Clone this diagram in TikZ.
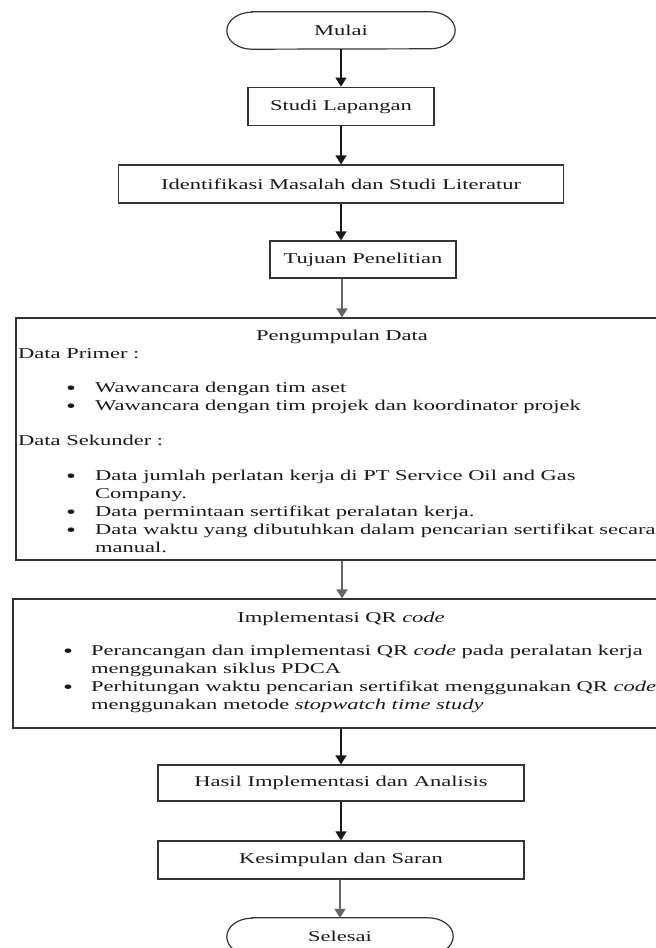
\documentclass[tikz,border=0pt]{standalone}
\usepackage{fontspec}
\setmainfont[FakeStretch=1.5]{Liberation Serif}
\usetikzlibrary{arrows.meta,calc}
\begin{document}
\begin{tikzpicture}[x=1pt,y=1pt,
  boxnode/.style={draw=black!80,line width=1.2pt,inner sep=0pt,font=\fontsize{15}{18}\selectfont,text=black!90},
  termnode/.style={inner sep=0pt,font=\fontsize{15}{18}\selectfont,text=black!90},
  termline/.style={draw=black!80,line width=1.2pt},
  plainbox/.style={draw=black!80,line width=1.2pt,inner sep=0pt},
  txt/.style={anchor=base west,inner sep=0pt,font=\fontsize{15}{18}\selectfont,text=black!90},
  bul/.style={anchor=base,inner sep=0pt,yshift=-1.5pt,font=\fontsize{19}{18}\selectfont,text=black!90},
  ctxt/.style={anchor=base,inner sep=0pt,font=\fontsize{15}{18}\selectfont,text=black!90},
  arr/.style={line width=1.5pt,draw=black!90,-{Triangle[width=11pt,length=9pt]}},
  arrgray/.style={line width=1.7pt,draw=black!60,-{Triangle[width=11pt,length=9pt]}}]
\useasboundingbox (0,0) rectangle (656,-948);
% terminators
\node[termnode,minimum width=228pt,minimum height=37pt] (mulai) at (341,-30.5) {Mulai};
\draw[termline] ([xshift=25pt]mulai.north west) -- ([xshift=-25pt]mulai.north east)
  arc[start angle=90,end angle=-90,x radius=25pt,y radius=18.5pt]
  -- ([xshift=25pt]mulai.south west)
  arc[start angle=270,end angle=90,x radius=25pt,y radius=18.5pt] -- cycle;
\node[termnode,minimum width=226pt,minimum height=37pt] (selesai) at (340,-936.5) {Selesai};
\draw[termline] ([xshift=25pt]selesai.north west) -- ([xshift=-25pt]selesai.north east)
  arc[start angle=90,end angle=-90,x radius=25pt,y radius=18.5pt]
  -- ([xshift=25pt]selesai.south west)
  arc[start angle=270,end angle=90,x radius=25pt,y radius=18.5pt] -- cycle;
% simple boxes
\node[boxnode,minimum width=186pt,minimum height=38.5pt] (studi) at (341,-106.5) {Studi Lapangan};
\node[boxnode,minimum width=445pt,minimum height=38pt] (ident) at (341,-184) {Identifikasi Masalah dan Studi Literatur};
\node[boxnode,minimum width=186pt,minimum height=37pt] (tujuan) at (363,-259.5) {Tujuan Penelitian};
\node[boxnode,minimum width=366pt,minimum height=36pt] (hasil) at (341,-783) {Hasil Implementasi dan Analisis};
\node[boxnode,minimum width=366pt,minimum height=38pt] (kes) at (341,-860) {Kesimpulan dan Saran};
% Pengumpulan Data box
\node[plainbox,minimum width=652pt,minimum height=242pt] (peng) at (342,-439) {};
\node[ctxt] (pt) at (342,-340.5) {Pengumpulan Data};
\node[txt] (dp) at (18,-358) {Data Primer :};
\node[bul] (pb1) at (71,-392.5) {\textbullet};
\node[txt] (p1) at (95,-392.5) {Wawancara dengan tim aset};
\node[bul] (pb2) at (71,-410.5) {\textbullet};
\node[txt] (p2) at (95,-410.5) {Wawancara dengan tim projek dan koordinator projek};
\node[txt] (ds) at (18,-445.5) {Data Sekunder :};
\node[bul] (sb1) at (71,-480.5) {\textbullet};
\node[txt] (s1) at (95,-480.5) {Data jumlah perlatan kerja di PT Service Oil and Gas};
\node[txt] (s1b) at (95,-498.5) {Company.};
\node[bul] (sb2) at (71,-516.5) {\textbullet};
\node[txt] (s2) at (95,-516.5) {Data permintaan sertifikat peralatan kerja.};
\node[bul] (sb3) at (71,-534.5) {\textbullet};
\node[txt] (s3) at (95,-534.5) {Data waktu yang dibutuhkan dalam pencarian sertifikat secara};
\node[txt] (s3b) at (95,-552) {manual.};
% Implementasi box
\node[plainbox,minimum width=655pt,minimum height=129pt] (impl) at (340.5,-663.5) {};
\node[ctxt] (it) at (341,-622.5) {Implementasi QR \textit{code}};
\node[bul] (ib1) at (68,-655.5) {\textbullet};
\node[txt] (i1) at (91,-655.5) {Perancangan dan implementasi QR \textit{code} pada peralatan kerja};
\node[txt] (i1b) at (91,-673.5) {menggunakan siklus PDCA};
\node[bul] (ib2) at (68,-691.5) {\textbullet};
\node[txt] (i2) at (91,-691.5) {Perhitungan waktu pencarian sertifikat menggunakan QR \textit{code}};
\node[txt] (i2b) at (91,-709.5) {menggunakan metode \textit{stopwatch time study}};
% connectors
\draw[arr] (mulai.south) -- (mulai.south |- studi.north);
\draw[arr] (studi.south) -- (studi.south |- ident.north);
\draw[arr] (ident.south) -- (ident.south |- tujuan.north);
\draw[arrgray] (peng.north |- tujuan.south) -- (peng.north);
\draw[arrgray] (peng.south) -- (peng.south |- impl.north);
\draw[arr] (hasil.north |- impl.south) -- (hasil.north);
\draw[arr] (hasil.south) -- (hasil.south |- kes.north);
\draw[arrgray] (selesai.north |- kes.south) -- (selesai.north);
\end{tikzpicture}
\end{document}
